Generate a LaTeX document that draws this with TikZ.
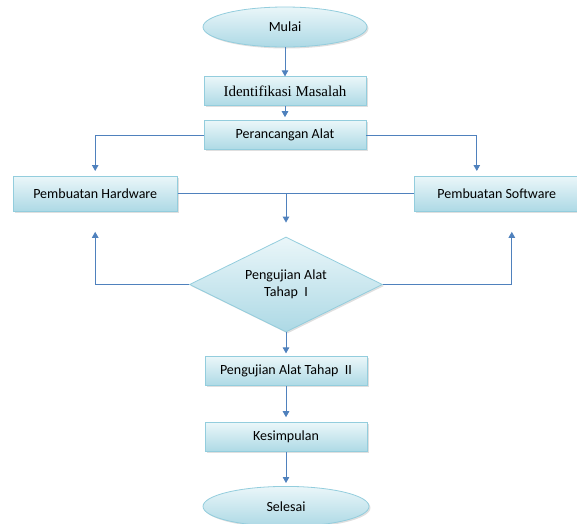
\documentclass[tikz,border=0pt]{standalone}
\usepackage{fontspec}
\setmainfont{Carlito}
\newfontfamily\serifid{Liberation Serif}
\usetikzlibrary{positioning,shapes.geometric,shadows,arrows.meta}
\definecolor{flowline}{HTML}{4F81BD}
\definecolor{boxedge}{HTML}{93CDDD}
\definecolor{boxtop}{HTML}{EAF6F9}
\definecolor{boxbot}{HTML}{ADD9E5}

\begin{document}
\begin{tikzpicture}[x=1pt,y=1pt,
         base/.style = {draw=boxedge, line width=0.8pt, top color=boxtop,
            bottom color=boxbot, text=black, font=\fontsize{14}{17}\selectfont,
            inner sep=0pt, drop shadow={opacity=0.25, shadow xshift=1.5pt,
            shadow yshift=-1.5pt}},
         terminal/.style = {base, ellipse, minimum width=164pt, minimum height=40pt},
         process/.style = {base, rectangle, minimum width=162pt, minimum height=29pt},
         wideproc/.style = {base, rectangle, minimum width=164pt, minimum height=35pt},
         decision/.style = {base, diamond, aspect=2.03, minimum width=193pt,
            minimum height=95pt, align=center},
         flow/.style = {flowline, line width=0.9pt},
         arr/.style = {flow, -{Triangle[width=6.5pt,length=6pt]}}
]
   \useasboundingbox (0,0) rectangle (577,-523);

   \node[terminal] (mulai) at (285,-27) {Mulai};
   \node[process, below=29pt of mulai] (ident)
      {\serifid\fontsize{15}{18}\selectfont Identifikasi Masalah};
   \node[process, below=14pt of ident] (rancang) {Perancangan Alat};
   \node[wideproc, below left=26pt and 26pt of rancang] (hw) {Pembuatan Hardware};
   \node[wideproc, below right=26pt and 48pt of rancang] (sw) {Pembuatan Software};
   \node[decision] (uji1) at (286,-284.5) {Pengujian Alat\\Tahap\ \ I};
   \node[process, below=24pt of uji1] (uji2) {Pengujian Alat Tahap\ \ II};
   \node[process, below=36pt of uji2] (simpul) {Kesimpulan};
   \node[terminal, minimum width=166pt, below=34pt of simpul] (selesai) {Selesai};

   \draw[arr] (mulai) -- (ident);
   \draw[arr, shorten >=3pt] (ident) -- (rancang);
   \draw[arr, shorten >=5pt] (rancang.west) -| (hw.north);
   \draw[arr, shorten >=5pt] (rancang.east) -| ([xshift=-20pt]sw.north);
   \draw[flow] (hw.east) -- (sw.west);
   \draw[arr, shorten >=14pt] (hw.east -| uji1.north) -- (uji1.north);
   % loops back from the test
   \draw[arr] (uji1.west) -| ([yshift=-20pt]hw.south);
   \draw[arr] (uji1.east) -| ([xshift=15pt,yshift=-20pt]sw.south);
   \draw[arr, shorten >=3pt] (uji1) -- (uji2);
   \draw[arr, shorten >=5pt] (uji2) -- (simpul);
   \draw[arr, shorten >=3pt] (simpul) -- (selesai);
\end{tikzpicture}
\end{document}
